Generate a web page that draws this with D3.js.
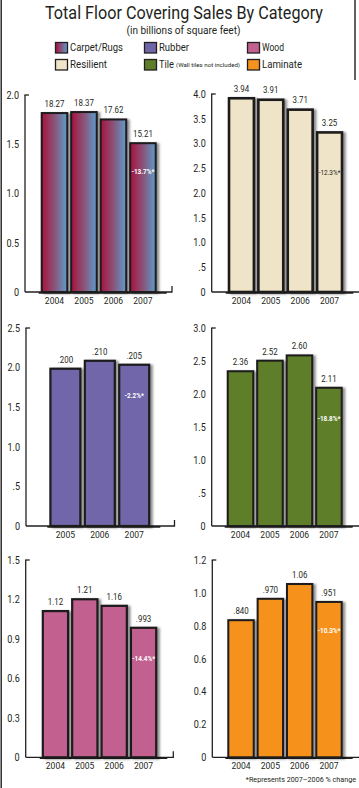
<!DOCTYPE html>
<html>
<head>
<meta charset="utf-8">
<script src="https://cdn.jsdelivr.net/npm/d3@7/dist/d3.min.js"></script>
<style>
  html, body { margin: 0; padding: 0; background: #fff; }
  svg { display: block; }
  text { font-family: Roboto, "Liberation Sans", sans-serif; fill: #231f20; }
</style>
</head>
<body>
<svg id="chart" width="359" height="788"></svg>
<script>
// ---------------- DATA ----------------
const chartTitle = "Total Floor Covering Sales By Category";
const chartSubtitle = "(in billions of square feet)";
const footnote = "*Represents 2007\u20132006 % change";

const legendNames = ["Carpet/Rugs", "Rubber", "Wood", "Resilient", "Tile", "Laminate"];
const legendNote = "(Wall tiles not included)";

const carpetYears = ["2004", "2005", "2006", "2007"];
const carpetSales = [18.27, 18.37, 17.62, 15.21];
const carpetTicks = [0, 0.5, 1.0, 1.5, 2.0];
const carpetTickLabels = ["0", "0.5", "1.0", "1.5", "2.0"];
const carpetChange = "-13.7%*";

const resilientYears = ["2004", "2005", "2006", "2007"];
const resilientSales = [3.94, 3.91, 3.71, 3.25];
const resilientTicks = [0, 0.5, 1.0, 1.5, 2.0, 2.5, 3.0, 3.5, 4.0];
const resilientTickLabels = ["0", ".5", "1.0", "1.5", "2.0", "2.5", "3.0", "3.5", "4.0"];
const resilientChange = "-12.3%*";

const rubberYears = ["2005", "2006", "2007"];
const rubberSales = [0.200, 0.210, 0.205];
const rubberTicks = [0, 0.5, 1.0, 1.5, 2.0, 2.5];
const rubberTickLabels = ["0", ".5", "1.0", "1.5", "2.0", "2.5"];
const rubberChange = "-2.2%*";

const tileYears = ["2004", "2005", "2006", "2007"];
const tileSales = [2.36, 2.52, 2.60, 2.11];
const tileTicks = [0, 0.5, 1.0, 1.5, 2.0, 2.5, 3.0];
const tileTickLabels = ["0", ".5", "1.0", "1.5", "2.0", "2.5", "3.0"];
const tileChange = "-18.8%*";

const woodYears = ["2004", "2005", "2006", "2007"];
const woodSales = [1.12, 1.21, 1.16, 0.993];
const woodTicks = [0, 0.3, 0.6, 0.9, 1.2, 1.5];
const woodTickLabels = ["0", "0.3", "0.6", "0.9", "1.2", "1.5"];
const woodChange = "-14.4%*";

const laminateYears = ["2004", "2005", "2006", "2007"];
const laminateSales = [0.840, 0.970, 1.06, 0.951];
const laminateTicks = [0, 0.2, 0.4, 0.6, 0.8, 1.0, 1.2];
const laminateTickLabels = ["0", "0.2", "0.4", "0.6", "0.8", "1.0", "1.2"];
const laminateChange = "-10.3%*";

// axis units per reported unit (axis of carpet is in tens, rubber in tenths)
const carpetAxisFactor = 0.1;
const rubberAxisFactor = 10;

// ---------------- STYLE / LAYOUT ----------------
const svg = d3.select("#chart");
const defs = svg.append("defs");

const grad = defs.append("linearGradient").attr("id", "carpetGrad")
  .attr("x1", "0").attr("x2", "1").attr("y1", "0").attr("y2", "0");
grad.append("stop").attr("offset", "0").attr("stop-color", "#a8113d");
grad.append("stop").attr("offset", "0.5").attr("stop-color", "#8a5479");
grad.append("stop").attr("offset", "1").attr("stop-color", "#5c9dcb");

const lgGrad = defs.append("linearGradient").attr("id", "carpetLegGrad")
  .attr("x1", "0").attr("x2", "1").attr("y1", "0").attr("y2", "0");
lgGrad.append("stop").attr("offset", "0").attr("stop-color", "#a8113d");
lgGrad.append("stop").attr("offset", "1").attr("stop-color", "#5c9dcb");

const f = defs.append("filter").attr("id", "shadow")
  .attr("x", "-10%").attr("y", "-10%").attr("width", "130%").attr("height", "120%");
f.append("feDropShadow").attr("dx", 2.5).attr("dy", 1).attr("stdDeviation", 1.2)
  .attr("flood-color", "#000").attr("flood-opacity", 0.45);

const colors = {
  carpet: "url(#carpetGrad)",
  rubber: "#6f66a9",
  wood: "#c2618f",
  resilient: "#efe4c7",
  tile: "#5f7e2b",
  laminate: "#f6921e"
};
const legendColors = ["url(#carpetLegGrad)", colors.rubber, colors.wood, colors.resilient, colors.tile, colors.laminate];

function squeeze(sel, factor) {
  sel.each(function () {
    const L = this.getComputedTextLength();
    this.setAttribute("textLength", (L * factor).toFixed(2));
    this.setAttribute("lengthAdjust", "spacingAndGlyphs");
  });
}
function fitWidth(sel, w) {
  sel.attr("textLength", w).attr("lengthAdjust", "spacingAndGlyphs");
}
const fmt = v => v < 1 ? d3.format(".3f")(v).replace(/^0/, "") : d3.format(".2f")(v);

// frame lines
svg.append("line").attr("x1", 1.2).attr("x2", 1.2).attr("y1", 0).attr("y2", 788)
  .attr("stroke", "#231f20").attr("stroke-width", 1.4);
svg.append("line").attr("x1", 355).attr("x2", 355).attr("y1", 0).attr("y2", 80)
  .attr("stroke", "#231f20").attr("stroke-width", 1.4);

// title
svg.append("text").attr("x", 184).attr("y", 19).attr("text-anchor", "middle")
  .attr("font-size", 17.5).text(chartTitle).call(fitWidth, 278);
svg.append("text").attr("x", 183.5).attr("y", 34).attr("text-anchor", "middle")
  .attr("font-size", 10).text(chartSubtitle).call(fitWidth, 114);

// legend
const legPos = [
  { sx: 55, sy: 42, tx: 70, ty: 51, w: 53 },
  { sx: 144, sy: 42, tx: 159, ty: 51, w: 30 },
  { sx: 247, sy: 42, tx: 262, ty: 51, w: 22 },
  { sx: 55, sy: 59, tx: 70, ty: 68, w: 37 },
  { sx: 144, sy: 59, tx: 159, ty: 68, w: 15 },
  { sx: 247, sy: 59, tx: 262, ty: 68, w: 40 }
];
legendNames.forEach((name, i) => {
  const p = legPos[i];
  svg.append("rect").attr("x", p.sx + 0.5).attr("y", p.sy + 0.5).attr("width", 12).attr("height", 10.5)
    .attr("fill", legendColors[i]).attr("stroke", "#231f20").attr("stroke-width", 1.3);
  svg.append("text").attr("x", p.tx).attr("y", p.ty).attr("font-size", 10.5)
    .text(name).call(fitWidth, p.w);
});
svg.append("text").attr("x", 176).attr("y", 67).attr("font-size", 6)
  .text(legendNote).call(fitWidth, 64);

// panels
const panels = [
  { years: carpetYears, sales: carpetSales, factor: carpetAxisFactor, ticks: carpetTicks, tickLabels: carpetTickLabels,
    change: carpetChange, fill: colors.carpet, axisX: 25, top: 95, base: 292, bx0: 40.7, bx1: 156.7, endX: 172, cap: true,
    changeDy: 29, changeColor: "#fff", stroke: 2 },
  { years: resilientYears, sales: resilientSales, factor: 1, ticks: resilientTicks, tickLabels: resilientTickLabels,
    change: resilientChange, fill: colors.resilient, axisX: 211.7, top: 94, base: 292, bx0: 227.7, bx1: 343.3, endX: 360, cap: false,
    changeDy: 41, changeColor: "#231f20", stroke: 2.6 },
  { years: rubberYears, sales: rubberSales, factor: rubberAxisFactor, ticks: rubberTicks, tickLabels: rubberTickLabels,
    change: rubberChange, fill: colors.rubber, axisX: 26, top: 328, base: 526, bx0: 49.3, bx1: 150.3, endX: 174.5, cap: true,
    changeDy: 31, changeColor: "#fff", stroke: 2.2 },
  { years: tileYears, sales: tileSales, factor: 1, ticks: tileTicks, tickLabels: tileTickLabels,
    change: tileChange, fill: colors.tile, axisX: 211.7, top: 328, base: 526, bx0: 226.7, bx1: 342.7, endX: 360, cap: false,
    changeDy: 31, changeColor: "#fff", stroke: 2 },
  { years: woodYears, sales: woodSales, factor: 1, ticks: woodTicks, tickLabels: woodTickLabels,
    change: woodChange, fill: colors.wood, axisX: 25.7, top: 560, base: 757.3, bx0: 41.7, bx1: 157.3, endX: 173.3, cap: true,
    changeDy: 31, changeColor: "#fff", stroke: 2.2 },
  { years: laminateYears, sales: laminateSales, factor: 1, ticks: laminateTicks, tickLabels: laminateTickLabels,
    change: laminateChange, fill: colors.laminate, axisX: 212.3, top: 560, base: 757.3, bx0: 227.3, bx1: 342.7, endX: 360, cap: false,
    changeDy: 29, changeColor: "#fff", stroke: 2 }
];

panels.forEach(p => {
  const g = svg.append("g");
  const maxTick = p.ticks[p.ticks.length - 1];
  const y = d3.scaleLinear().domain([0, maxTick]).range([p.base, p.top]);
  const x = d3.scaleBand().domain(p.years).range([p.bx0, p.bx1]).paddingInner(0.065).paddingOuter(0);

  // y axis (line + labels)
  const yAxis = d3.axisLeft(y).tickValues(p.ticks).tickSize(0).tickPadding(6)
    .tickFormat((d, i) => p.tickLabels[i]);
  const ag = g.append("g").attr("transform", `translate(${p.axisX},0)`).call(yAxis);
  ag.select(".domain").remove();
  ag.selectAll("text").attr("font-size", 10.5).attr("font-family", "Roboto, sans-serif")
    .attr("fill", "#231f20").call(squeeze, 0.86);

  g.append("line").attr("x1", p.axisX).attr("x2", p.axisX).attr("y1", p.top).attr("y2", p.base)
    .attr("stroke", "#231f20").attr("stroke-width", 1.3);
  g.append("line").attr("x1", p.axisX - 0.6).attr("x2", p.axisX + 4).attr("y1", p.top).attr("y2", p.top)
    .attr("stroke", "#231f20").attr("stroke-width", 1.3);

  // baseline
  g.append("line").attr("x1", p.axisX).attr("x2", p.endX).attr("y1", p.base).attr("y2", p.base)
    .attr("stroke", "#231f20").attr("stroke-width", 1.3);
  g.append("line").attr("x1", p.bx0 - 2).attr("x2", Math.min(p.bx1 + 10, p.endX)).attr("y1", p.base + 0.8).attr("y2", p.base + 0.8)
    .attr("stroke", "#231f20").attr("stroke-width", 1.8);
  if (p.cap) {
    g.append("line").attr("x1", p.endX).attr("x2", p.endX).attr("y1", p.base - 6).attr("y2", p.base + 0.6)
      .attr("stroke", "#231f20").attr("stroke-width", 1.3);
  }

  // bars
  const hw = p.stroke / 2;
  g.append("g").attr("filter", "url(#shadow)")
    .selectAll("rect").data(p.years).join("rect")
    .attr("x", d => x(d) + hw)
    .attr("width", x.bandwidth() - p.stroke)
    .attr("y", (d, i) => y(p.sales[i] * p.factor) + hw)
    .attr("height", (d, i) => p.base - y(p.sales[i] * p.factor) - hw)
    .attr("fill", p.fill).attr("stroke", "#1c1a1b").attr("stroke-width", p.stroke);

  // value labels
  g.selectAll("text.val").data(p.years).join("text").attr("class", "val")
    .attr("x", d => x(d) + x.bandwidth() / 2)
    .attr("y", (d, i) => y(p.sales[i] * p.factor) - 5)
    .attr("text-anchor", "middle").attr("font-size", 9.2)
    .text((d, i) => fmt(p.sales[i])).call(squeeze, 0.86);

  // year labels
  g.selectAll("text.yr").data(p.years).join("text").attr("class", "yr")
    .attr("x", d => x(d) + x.bandwidth() / 2)
    .attr("y", p.base + 11.5)
    .attr("text-anchor", "middle").attr("font-size", 9.5)
    .text(d => d).call(squeeze, 0.9);

  // change label inside last bar
  const last = p.years[p.years.length - 1];
  const lastV = p.sales[p.sales.length - 1] * p.factor;
  g.append("text")
    .attr("x", x(last) + x.bandwidth() / 2)
    .attr("y", y(lastV) + p.changeDy + 3)
    .attr("text-anchor", "middle").attr("font-size", 8).attr("font-weight", p.changeColor === "#fff" ? 700 : 400)
    .style("fill", p.changeColor)
    .text(p.change).call(squeeze, 0.8);
});

// footnote (kept fully inside the picture)
svg.append("text").attr("x", 356).attr("y", 782).attr("text-anchor", "end")
  .attr("font-size", 7.2).text(footnote);
</script>
</body>
</html>
